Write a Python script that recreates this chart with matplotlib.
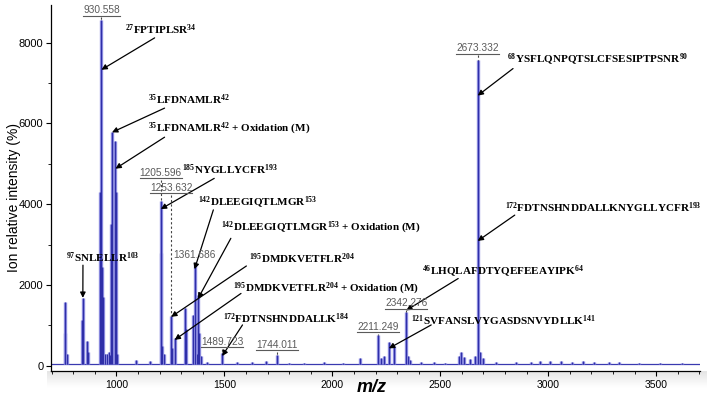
import matplotlib
matplotlib.use("Agg")
import matplotlib.pyplot as plt
import numpy as np
from matplotlib.lines import Line2D
from matplotlib.ticker import MultipleLocator

plt.rcParams['mathtext.fontset'] = 'custom'
plt.rcParams['mathtext.rm'] = 'Liberation Serif'
plt.rcParams['mathtext.bf'] = 'Liberation Serif:bold'
plt.rcParams['mathtext.it'] = 'Liberation Serif:italic'

# ---------------- data ----------------
peak_mz = [760, 764, 770, 840, 844.5, 866, 870, 926, 930.558, 934, 939, 948, 958, 966, 972,
           977, 979.5, 995.5, 998, 1005, 1092, 1154, 1205.596, 1208, 1213, 1219, 1253.632, 1258,
           1269.6, 1318, 1322, 1357, 1361.686, 1372, 1377.7, 1383, 1390, 1420, 1489.723, 1560,
           1629, 1692, 1744.011, 1800, 1870, 1960, 2050, 2130, 2211.249, 2225, 2240, 2262.1,
           2284, 2342.276, 2350, 2362, 2410, 2470, 2520, 2585, 2598, 2610, 2640, 2660, 2673.332,
           2685, 2700, 2760, 2850, 2920, 2960, 3010, 3060, 3110, 3160, 3210, 3280, 3330, 3420,
           3520, 3620]
peak_int = [800, 1580, 300, 1130, 1680, 600, 350, 4300, 8560, 2450, 1700, 300, 280, 330, 260,
            3500, 5800, 5560, 4300, 300, 130, 110, 4070, 2800, 500, 300, 1240, 450,
            680, 1430, 900, 1250, 2500, 300, 1750, 800, 250, 80, 310, 90,
            100, 110, 260, 70, 60, 80, 70, 180, 760, 200, 250, 580,
            480, 1340, 250, 150, 100, 80, 70, 250, 330, 220, 170, 240, 7560,
            350, 180, 80, 90, 100, 120, 110, 120, 100, 110, 90, 100, 80, 70,
            70, 70]
baseline_level = 30

mass_labels = ["930.558", "1205.596", "1253.632", "1361.686", "1489.723",
               "1744.011", "2211.249", "2342.276", "2673.332"]
mass_label_y = [8810, 4780, 4409, 2742, 594, 513, 966, 1545, 7861]
mass_label_underlined = [True, True, True, False, True, True, True, True, True]

pep_seq = ["FPTIPLSR", "LFDNAMLR", "LFDNAMLR", "NYGLLYCFR", "DLEEGIQTLMGR", "DLEEGIQTLMGR",
           "DMDKVETFLR", "DMDKVETFLR", "FDTNSHNDDALLK", "YSFLQNPQTSLCFSESIPTPSNR",
           "FDTNSHNDDALLKNYGLLYCFR", "LHQLAFDTYQEFEEAYIPK", "SVFANSLVYGASDSNVYDLLK", "SNLELLR"]
pep_start = [27, 35, 35, 185, 142, 142, 195, 195, 172, 68, 172, 46, 121, 97]
pep_end = [34, 42, 42, 193, 153, 153, 204, 204, 184, 90, 193, 64, 141, 103]
pep_oxid = [False, False, True, False, False, True, False, True, False, False, False, False, False, False]
pep_peak_mz = [930.558, 979.5, 995.5, 1205.596, 1361.686, 1377.7, 1253.632, 1269.6, 1489.723,
               2673.332, 2673.332, 2342.276, 2262.1, 844.5]
pep_arrow_int = [7330, 5780, 4880, 3880, 2390, 1660, 1210, 640, 240, 6690, 3090, 1370, 430, 1680]

# ---------------- layout (label / arrow-tail positions in data units) ----------------
pep_text_pos = [(1038, 8313), (1148, 6580), (1148, 5855), (1304, 4860), (1377, 4040),
                (1484, 3400), (1615, 2660), (1542, 1900), (1492, 1175), (2811, 7570),
                (2802, 3920), (2414, 2330), (2365, 1110), (766, 2685)]
pep_tail_pos = [(1177, 8120), (1223, 6380), (1223, 5660), (1453, 4640), (1449, 3860),
                (1530, 3155), (1602, 2470), (1577, 1790), (1584, 1010), (2837, 7360),
                (2845, 3730), (2583, 2160), (2458, 1010), (845, 2490)]

fig = plt.figure(figsize=(7.07, 4.0), dpi=100)

# soft gray shadow under the x axis (decoration)
shadow = fig.add_axes([47 / 707, 12 / 400, 660 / 707, 17 / 400], zorder=-1)
grad = np.linspace(0.89, 1.0, 20).reshape(-1, 1)
shadow.imshow(grad, aspect='auto', cmap='gray', vmin=0, vmax=1, extent=[0, 1, 0, 1],
              origin='upper')
shadow.set_axis_off()

ax = fig.add_axes([51 / 707, 29 / 400, 649 / 707, 366 / 400])
ax.patch.set_alpha(0)
ax.set_xlim(697, 3703)
ax.set_ylim(-131, 8934)

# spectrum
ax.hlines(baseline_level, 697, 3703, color='#3a3ab0', lw=0.9, zorder=2)
ax.vlines(peak_mz, baseline_level, peak_int, color='#8c8ce0', lw=2.4, zorder=2)
ax.vlines(peak_mz, baseline_level, peak_int, color='#2f2fa8', lw=0.8, zorder=3)

# axes styling
for s in ['top', 'right']:
    ax.spines[s].set_visible(False)
ax.spines['left'].set_linewidth(0.9)
ax.spines['bottom'].set_linewidth(0.9)
ax.xaxis.set_major_locator(MultipleLocator(500))
ax.xaxis.set_minor_locator(MultipleLocator(100))
ax.yaxis.set_major_locator(MultipleLocator(2000))
ax.yaxis.set_minor_locator(MultipleLocator(1000))
ax.tick_params(axis='both', which='major', length=3.5, width=0.8, direction='out')
ax.tick_params(axis='both', which='minor', length=2, width=0.6, direction='out')
ax.tick_params(axis='x', labelsize=7.5, pad=3)
ax.tick_params(axis='y', labelsize=8, pad=2)
for lbl in ax.get_xticklabels() + ax.get_yticklabels():
    lbl.set_fontfamily('Liberation Sans')

fig.text(14 / 707, 1 - 197 / 400, "Ion relative intensity (%)", rotation=90,
         ha='center', va='center', fontsize=10, family='Liberation Sans')
fig.text(372 / 707, 1 - 388 / 400, "m/z", ha='center', va='center', fontsize=13,
         family='Liberation Sans', fontweight='bold', fontstyle='italic')

# peptide annotations
for seq, a, b, ox, pmz, pint, tp, tl in zip(pep_seq, pep_start, pep_end, pep_oxid, pep_peak_mz,
                                            pep_arrow_int, pep_text_pos, pep_tail_pos):
    label = r"$^{\mathbf{%d}}$%s$^{\mathbf{%d}}$" % (a, seq, b)
    if ox:
        label += " + Oxidation (M)"
    ax.text(tp[0], tp[1], label, ha='left', va='center', fontsize=8,
            family='Liberation Serif', fontweight='bold', zorder=5)
    ax.annotate("", xy=(pmz, pint), xytext=tl,
                arrowprops=dict(arrowstyle='-|>', color='black', lw=0.9,
                                mutation_scale=8, shrinkA=0, shrinkB=0), zorder=5)

# mass labels
peak_lookup = dict(zip(peak_mz, peak_int))
mass_texts = []
for lab, ly in zip(mass_labels, mass_label_y):
    t = ax.text(float(lab), ly, lab, ha='center', va='center', fontsize=7.3,
                family='Liberation Sans', color='#5a5a5a', zorder=5)
    mass_texts.append(t)

fig.canvas.draw()
renderer = fig.canvas.get_renderer()
inv_fig = fig.transFigure.inverted()
inv_ax = ax.transData.inverted()
for t, lab, ul in zip(mass_texts, mass_labels, mass_label_underlined):
    bb = t.get_window_extent(renderer)
    if ul:
        (x0, y0), (x1, _) = inv_fig.transform([(bb.x0, bb.y0 - 0.5), (bb.x1, bb.y0 - 0.5)])
        fig.add_artist(Line2D([x0, x1], [y0, y0], color='#5a5a5a', lw=0.8))
    top_peak = peak_lookup[float(lab)]
    ybot = inv_ax.transform((bb.x0, bb.y0 - 2))[1]
    if ybot > top_peak:
        ax.plot([float(lab), float(lab)], [ybot, top_peak], ls=(0, (2, 2)), color='#444444',
                lw=0.8, zorder=4)

fig.savefig("out.png", dpi=100)
